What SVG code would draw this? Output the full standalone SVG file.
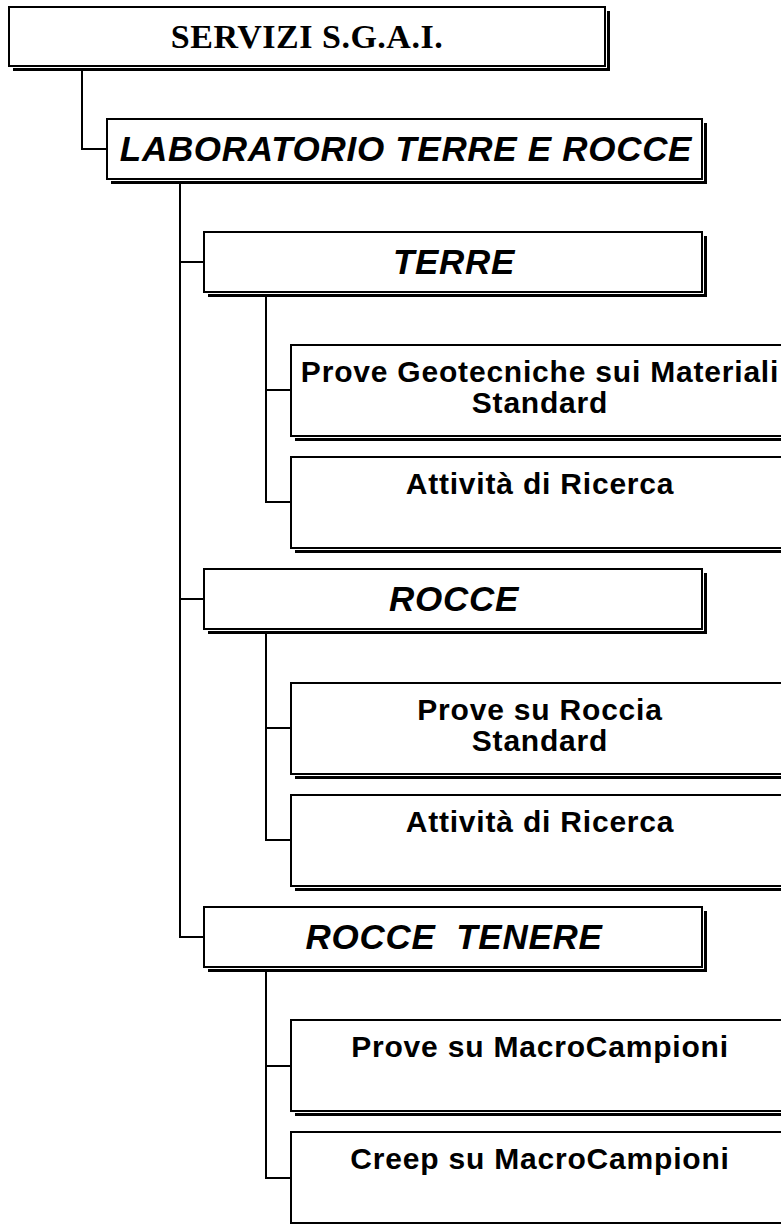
<svg xmlns="http://www.w3.org/2000/svg" width="781" height="1224" viewBox="0 0 781 1224">
<style>
.sh{fill:#000}
.gap{fill:#fff}
.bx{fill:#fff;stroke:#000;stroke-width:2}
.t0{font-family:"Liberation Serif","Times New Roman",serif;font-weight:bold;font-size:34px;fill:#000;text-anchor:middle;letter-spacing:0.5px}
.t1{font-family:"Liberation Sans",Arial,sans-serif;font-weight:bold;font-style:italic;font-size:35px;fill:#000;text-anchor:middle;white-space:pre;letter-spacing:0.7px}
.t2{font-family:"Liberation Sans",Arial,sans-serif;font-weight:bold;font-size:30px;fill:#000;text-anchor:middle;letter-spacing:0.8px}
.cn{fill:none;stroke:#000;stroke-width:2}
</style>
<g id="connectors">
<path class="cn" d="M82 70 V149 H107"/>
<path class="cn" d="M180 183 V937 H204 M180 262 H204 M180 599 H204"/>
<path class="cn" d="M266 296 V502 H291 M266 390 H291"/>
<path class="cn" d="M266 633 V840 H291 M266 728 H291"/>
<path class="cn" d="M266 971 V1178 H291 M266 1066 H291"/>
</g>
<g id="n-servizi">
<rect class="sh" x="13" y="11" width="597" height="60"/>
<rect class="gap" x="9" y="7" width="598" height="61"/>
<rect class="bx" x="9" y="7" width="596" height="59"/>
<text class="t0" x="307" y="48">SERVIZI S.G.A.I.</text>
</g>
<g id="n-lab">
<rect class="sh" x="111" y="123" width="596" height="61"/>
<rect class="gap" x="107" y="119" width="597" height="62"/>
<rect class="bx" x="107" y="119" width="595" height="60"/>
<text class="t1" x="406" y="161">LABORATORIO TERRE E ROCCE</text>
</g>
<g id="n-terre">
<rect class="sh" x="208" y="236" width="499" height="61"/>
<rect class="gap" x="204" y="232" width="500" height="62"/>
<rect class="bx" x="204" y="232" width="498" height="60"/>
<text class="t1" x="454" y="274">TERRE</text>
</g>
<g id="n-terre-prove">
<rect class="sh" x="295" y="349" width="495" height="92"/>
<rect class="gap" x="291" y="345" width="496" height="93"/>
<rect class="bx" x="291" y="345" width="494" height="91"/>
<text class="t2" x="540" y="382">Prove Geotecniche sui Materiali</text>
<text class="t2" x="540" y="413">Standard</text>
</g>
<g id="n-terre-ricerca">
<rect class="sh" x="295" y="461" width="495" height="92"/>
<rect class="gap" x="291" y="457" width="496" height="93"/>
<rect class="bx" x="291" y="457" width="494" height="91"/>
<text class="t2" x="540" y="494">Attività di Ricerca</text>
</g>
<g id="n-rocce">
<rect class="sh" x="208" y="573" width="499" height="61"/>
<rect class="gap" x="204" y="569" width="500" height="62"/>
<rect class="bx" x="204" y="569" width="498" height="60"/>
<text class="t1" x="454" y="611">ROCCE</text>
</g>
<g id="n-rocce-prove">
<rect class="sh" x="295" y="687" width="495" height="92"/>
<rect class="gap" x="291" y="683" width="496" height="93"/>
<rect class="bx" x="291" y="683" width="494" height="91"/>
<text class="t2" x="540" y="720">Prove su Roccia</text>
<text class="t2" x="540" y="751">Standard</text>
</g>
<g id="n-rocce-ricerca">
<rect class="sh" x="295" y="799" width="495" height="92"/>
<rect class="gap" x="291" y="795" width="496" height="93"/>
<rect class="bx" x="291" y="795" width="494" height="91"/>
<text class="t2" x="540" y="832">Attività di Ricerca</text>
</g>
<g id="n-tenere">
<rect class="sh" x="208" y="911" width="499" height="61"/>
<rect class="gap" x="204" y="907" width="500" height="62"/>
<rect class="bx" x="204" y="907" width="498" height="60"/>
<text class="t1" x="454" y="949" xml:space="preserve">ROCCE  TENERE</text>
</g>
<g id="n-tenere-macro">
<rect class="sh" x="295" y="1024" width="495" height="92"/>
<rect class="gap" x="291" y="1020" width="496" height="93"/>
<rect class="bx" x="291" y="1020" width="494" height="91"/>
<text class="t2" x="540" y="1057">Prove su MacroCampioni</text>
</g>
<g id="n-tenere-creep">
<rect class="sh" x="295" y="1136" width="495" height="92"/>
<rect class="gap" x="291" y="1132" width="496" height="93"/>
<rect class="bx" x="291" y="1132" width="494" height="91"/>
<text class="t2" x="540" y="1169">Creep su MacroCampioni</text>
</g>
</svg>
